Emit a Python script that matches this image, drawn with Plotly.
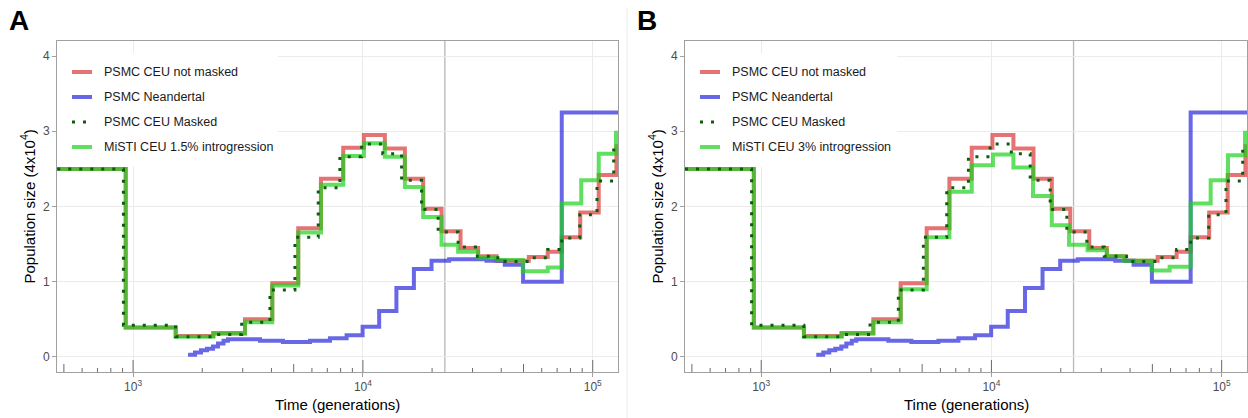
import plotly.graph_objects as go

# ---------------- data ----------------
# time in generations, population size in units of 4x10^4
ceu_time = [100, 929, 1533, 2234, 3069, 4034, 5232, 6568, 8210, 10100, 12460, 15230,
            18290, 21990, 26600, 31720, 38140, 52700, 63730, 73330, 88250, 106200, 126800]
ceu_size = [2.50, 0.39, 0.28, 0.32, 0.50, 0.98, 1.71, 2.37, 2.78, 2.95, 2.77, 2.37,
            1.97, 1.67, 1.45, 1.34, 1.28, 1.33, 1.40, 1.59, 1.92, 2.42, 2.80]

nea_time = [1735, 1860, 1975, 2098, 2228, 2342, 2475, 2588, 3566, 4489, 5885, 7188,
            8494, 9970, 11770, 13990, 16670, 19890, 23720, 34500, 41440, 49770, 73330]
nea_size = [0.03, 0.06, 0.09, 0.11, 0.14, 0.18, 0.215, 0.235, 0.215, 0.20, 0.215, 0.25,
            0.29, 0.40, 0.61, 0.915, 1.17, 1.28, 1.30, 1.28, 1.225, 1.00, 3.25]

masked_time = [100, 908, 1531, 2250, 2969, 3941, 5062, 6393, 7943, 9871, 12200, 14735,
               17997, 21254, 25966, 30903, 38637, 53220, 63730, 73330, 87810, 104400, 123400]
masked_size = [2.50, 0.42, 0.27, 0.30, 0.46, 0.89, 1.59, 2.25, 2.66, 2.83, 2.70, 2.35,
               1.96, 1.66, 1.46, 1.34, 1.27, 1.32, 1.43, 1.58, 1.89, 2.34, 2.78]

misti15_time = [100, 929, 1533, 2234, 3069, 4034, 5232, 6568, 8210, 10100, 12460, 15230,
                18290, 21990, 25966, 31720, 38250, 49620, 63730, 73330, 89125, 106200, 126300]
misti15_size = [2.50, 0.39, 0.27, 0.31, 0.46, 0.95, 1.655, 2.29, 2.67, 2.84, 2.66, 2.26,
                1.86, 1.49, 1.40, 1.32, 1.29, 1.14, 1.19, 2.04, 2.35, 2.70, 2.98]

misti3_time = [100, 929, 1533, 2234, 3069, 4034, 5232, 6568, 8210, 10151, 12460, 15153,
               18290, 21728, 26148, 31720, 37685, 49620, 59420, 73330, 89580, 106520, 126300]
misti3_size = [2.50, 0.39, 0.27, 0.31, 0.46, 0.90, 1.59, 2.195, 2.55, 2.69, 2.52, 2.14,
               1.75, 1.49, 1.42, 1.34, 1.28, 1.15, 1.20, 2.04, 2.35, 2.68, 2.98]

split_time = 22730          # vertical reference line
x_tick_vals = [1000, 10000, 100000]
x_tick_text = ["10<sup>3</sup>", "10<sup>4</sup>", "10<sup>5</sup>"]
y_tick_vals = [0, 1, 2, 3, 4]

panel_labels = ["A", "B"]
legend_labels_a = ["PSMC CEU not masked", "PSMC Neandertal", "PSMC CEU Masked",
                   "MiSTI CEU 1.5% introgression"]
legend_labels_b = ["PSMC CEU not masked", "PSMC Neandertal", "PSMC CEU Masked",
                   "MiSTI CEU 3% introgression"]

# ---------------- styling ----------------
W, H = 1248, 418
FONT = "Liberation Sans, Arial, sans-serif"
RED = "rgba(215,40,40,0.65)"
BLUE = "rgba(40,40,220,0.7)"
GREEN = "rgba(30,210,30,0.7)"
DKGREEN = "#0b5d0b"
T_END = 300000
X_RANGE = [2.669, 5.11]
Y_RANGE = [-0.2, 4.2]

# plot areas in pixels: (left, right), shared top/bottom
panels = [(57, 618), (685, 1247)]
TOP, BOTTOM = 41, 372
PLOT_H = BOTTOM - TOP


def px_x(p):
    return p / W


def px_y(p):
    return (H - p) / H


def step(t, v, color, width, dash, xa, ya):
    return go.Scatter(
        x=list(t) + [T_END], y=list(v) + [v[-1]], mode="lines",
        line=dict(shape="hv", color=color, width=width, dash=dash),
        xaxis=xa, yaxis=ya, showlegend=False, hoverinfo="skip")


fig = go.Figure()
shapes = []
annotations = []

series_sets = [
    (misti15_time, misti15_size, legend_labels_a),
    (misti3_time, misti3_size, legend_labels_b),
]

for i, ((left, right), (g_time, g_size, labels)) in enumerate(zip(panels, series_sets)):
    xa = "x" if i == 0 else "x2"
    ya = "y" if i == 0 else "y2"
    fig.add_trace(step(ceu_time, ceu_size, RED, 4, None, xa, ya))
    fig.add_trace(step(nea_time, nea_size, BLUE, 4, None, xa, ya))
    fig.add_trace(step(g_time, g_size, GREEN, 4, None, xa, ya))
    fig.add_trace(step(masked_time, masked_size, DKGREEN, 3, "3px,8px", xa, ya))

    # vertical reference line
    shapes.append(dict(type="line", xref=xa, yref=f"{ya} domain", x0=split_time, x1=split_time,
                       y0=0, y1=1, line=dict(color="#b8b8b8", width=1.3), layer="below"))

    # logarithmic tick marks along the bottom
    for d in range(2, 6):
        for k in range(1, 10):
            t = k * 10 ** d
            if 10 ** X_RANGE[0] <= t <= 10 ** X_RANGE[1]:
                ln = 12 if k == 1 else (8 if k == 5 else 4)
                shapes.append(dict(type="line", xref=xa, yref=f"{ya} domain", x0=t, x1=t,
                                   y0=0, y1=ln / PLOT_H, line=dict(color="#6b6b6b", width=1),
                                   layer="above"))

    # legend box
    shapes.append(dict(type="rect", xref="paper", yref="paper",
                       x0=px_x(left), x1=px_x(left + (221 if i == 0 else 212)),
                       y0=px_y(166.5), y1=px_y(53), fillcolor="white",
                       line=dict(width=0), layer="above"))
    styles = [(RED, 4, None), (BLUE, 4, None), (DKGREEN, 3, "3px,8px"), (GREEN, 4, None)]
    for j, ((col, wd, ds), lab) in enumerate(zip(styles, labels)):
        yy = px_y(72 + 25 * j)
        shapes.append(dict(type="line", xref="paper", yref="paper",
                           x0=px_x(left + 15), x1=px_x(left + 35), y0=yy, y1=yy,
                           line=dict(color=col, width=wd, dash=ds), layer="above"))
        annotations.append(dict(text=lab, xref="paper", yref="paper", x=px_x(left + 45), y=yy,
                                xanchor="left", yanchor="middle", showarrow=False,
                                font=dict(family=FONT, size=12.5, color="#1a1a1a")))

    # axis titles
    annotations.append(dict(text="Population size (4x10<sup>4</sup>)", xref="paper", yref="paper",
                            x=px_x(left - 29), y=px_y((TOP + BOTTOM) / 2), textangle=-90,
                            xanchor="center", yanchor="middle", showarrow=False,
                            font=dict(family=FONT, size=15, color="black")))
    annotations.append(dict(text="Time (generations)", xref="paper", yref="paper",
                            x=px_x((left + right) / 2), y=px_y(404),
                            xanchor="center", yanchor="middle", showarrow=False,
                            font=dict(family=FONT, size=15, color="black")))
    # panel letter
    annotations.append(dict(text=f"<b>{panel_labels[i]}</b>", xref="paper", yref="paper",
                            x=px_x(left - 38), y=px_y(20), xanchor="center", yanchor="middle",
                            showarrow=False, font=dict(family=FONT, size=28, color="black")))

# thin separator between panels
shapes.append(dict(type="line", xref="paper", yref="paper", x0=px_x(627), x1=px_x(627),
                   y0=0, y1=px_y(8), line=dict(color="#ececec", width=1)))

axis_common = dict(showline=True, linecolor="#a0a0a0", linewidth=1, mirror=True,
                   ticks="outside", ticklen=4, tickcolor="#a0a0a0", zeroline=False,
                   gridcolor="#ebebeb", gridwidth=1,
                   tickfont=dict(family=FONT, size=12, color="#4d4d4d"))

layout_axes = {}
for i, (left, right) in enumerate(panels):
    sx = "" if i == 0 else "2"
    layout_axes[f"xaxis{sx}"] = dict(type="log", range=X_RANGE,
                                     domain=[px_x(left), px_x(right)],
                                     anchor=f"y{sx}", tickvals=x_tick_vals,
                                     ticktext=x_tick_text, **axis_common)
    layout_axes[f"yaxis{sx}"] = dict(range=Y_RANGE, domain=[px_y(BOTTOM), px_y(TOP)],
                                     anchor=f"x{sx}", tickvals=y_tick_vals, **axis_common)

fig.update_layout(
    width=W, height=H, margin=dict(l=0, r=0, t=0, b=0),
    paper_bgcolor="white", plot_bgcolor="white",
    showlegend=False, shapes=shapes, annotations=annotations,
    font=dict(family=FONT), **layout_axes)

fig.write_html("out.html")
